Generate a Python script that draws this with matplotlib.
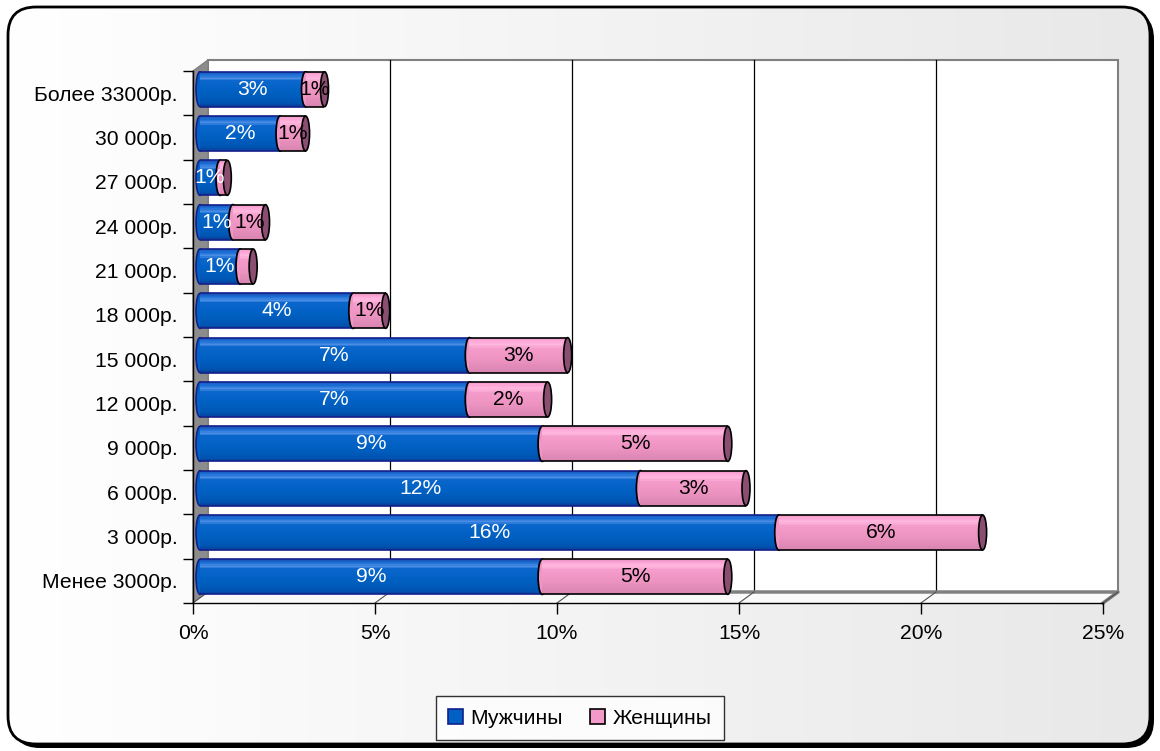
import numpy as np
import matplotlib
matplotlib.use("Agg")
import matplotlib.pyplot as plt
from matplotlib.colors import to_rgb
from matplotlib.patches import Ellipse, Polygon, Rectangle, FancyBboxPatch, Patch
from matplotlib.transforms import ScaledTranslation

plt.rcParams['font.family'] = ['Liberation Sans', 'DejaVu Sans']

# data, bottom to top
categories = ["Менее 3000р.", "3 000р.", "6 000р.", "9 000р.", "12 000р.", "15 000р.",
              "18 000р.", "21 000р.", "24 000р.", "27 000р.", "30 000р.", "Более 33000р."]
men = [9.4, 15.9, 12.1, 9.4, 7.4, 7.4, 4.2, 1.1, 0.9, 0.55, 2.2, 2.9]
women = [5.1, 5.6, 2.9, 5.1, 2.15, 2.7, 0.9, 0.36, 0.9, 0.2, 0.7, 0.52]
series_names = ["Мужчины", "Женщины"]
xticks = [0, 5, 10, 15, 20, 25]

W, H = 1160, 751
FS = 15.2


def shade(keys, n=28):
    # vertical colour profile of a cylinder, top -> bottom
    pos = [k[0] for k in keys]
    cols = np.array([to_rgb(k[1]) for k in keys])
    t = (np.arange(n) + 0.5) / n
    return [tuple(np.interp(v, pos, cols[:, j]) for j in range(3)) for v in t]


blue_bands = shade([(0, "#1d52b8"), (0.1, "#1a6fd6"), (0.2, "#4d8ee4"), (0.27, "#0a66cc"),
                    (0.6, "#0060c2"), (0.9, "#0054b2"), (1.0, "#0a3c98")])
pink_bands = shade([(0, "#e894c2"), (0.1, "#ffa8d8"), (0.2, "#ffb8de"), (0.3, "#f49ccb"),
                    (0.6, "#ee94c2"), (1.0, "#d884b0")])

fig = plt.figure(figsize=(W / 100, H / 100), dpi=100)
fig.patch.set_facecolor("white")

# background frame, walls, floor (pixel coords)
bg = fig.add_axes([0, 0, 1, 1], zorder=-10)
bg.axis("off")

shadow = FancyBboxPatch((12, 11), 1142, 737, boxstyle="round,pad=0,rounding_size=28",
                        facecolor="black", edgecolor="black", lw=0)
bg.add_patch(shadow)
frame = FancyBboxPatch((8, 7), 1142, 737, boxstyle="round,pad=0,rounding_size=28",
                       facecolor="none", edgecolor="black", lw=2)
grad = np.linspace(1.0, 0.91, 256)
img = bg.imshow(np.dstack([grad, grad, grad]), extent=[8, 1150, 744, 7],
                aspect="auto", zorder=1)
bg.add_patch(frame)
img.set_clip_path(frame)
frame.set_zorder(2)
bg.set_xlim(0, W)
bg.set_ylim(H, 0)

x0, x1, yt, yb = 193, 1103, 71, 603
dx, dy = 15, 11
px = (x1 - x0) / 25

bg.add_patch(Rectangle((x0 + dx, yt - dy), x1 - x0, yb - yt, facecolor="white",
                       edgecolor="#808080", lw=1.5, zorder=3))
for v in xticks[1:-1]:
    bg.plot([x0 + dx + v * px] * 2, [yt - dy, yb - dy], color="black", lw=0.9, zorder=4)
bg.add_patch(Polygon([(x0, yt), (x0 + dx, yt - dy), (x0 + dx, yb - dy), (x0, yb)],
                     facecolor="#8c8c8c", edgecolor="#808080", lw=1, zorder=4))
bg.add_patch(Polygon([(x0, yb), (x1, yb), (x1 + dx, yb - dy), (x0 + dx, yb - dy)],
                     facecolor="#fafafa", edgecolor="none", zorder=4))
bg.plot([x0 + dx, x1 + dx, x1], [yb - dy, yb - dy, yb], color="#808080", lw=2.5, zorder=5)
for v in xticks:
    bg.plot([x0 + v * px, x0 + dx + v * px], [yb, yb - dy], color="#505050", lw=0.8, zorder=5)

# main axes = front plane
ax = fig.add_axes([x0 / W, 1 - yb / H, (x1 - x0) / W, (yb - yt) / H])
ax.set_facecolor("none")
ax.set_xlim(0, 25)
ax.set_ylim(-0.5, len(categories) - 0.5)
for s in ["top", "right"]:
    ax.spines[s].set_visible(False)
for s in ["left", "bottom"]:
    ax.spines[s].set_color("black")
    ax.spines[s].set_linewidth(1)
ax.set_xticks(xticks)
ax.set_xticklabels([f"{v}%" for v in xticks], fontsize=FS)
ax.tick_params(axis="x", length=8, width=1, pad=7)
ax.set_yticks(np.arange(-0.5, len(categories), 1.0))
ax.set_yticklabels([])
ax.tick_params(axis="y", which="major", length=7, width=1)
ax.set_yticks(np.arange(len(categories)), minor=True)
ax.set_yticklabels(categories, minor=True, fontsize=FS)
ax.tick_params(axis="y", which="minor", length=0, pad=11)

# bars sit half way into the depth of the 3d box
off = ax.transData + ScaledTranslation(0.07, 0.04, fig.dpi_scale_trans)
bh = 0.79
cw = 0.22


def cylinder(y, left, width, bands, edge, cap, z):
    ax.add_patch(Ellipse((left, y), cw, bh, facecolor=bands[len(bands) // 2], edgecolor=edge,
                         lw=1.2, transform=off, zorder=z))
    n = len(bands)
    for i, c in enumerate(bands):
        top = y + bh / 2 - i * bh / n
        ax.add_patch(Rectangle((left, top - bh / n), width, bh / n * 1.05, facecolor=c,
                               edgecolor="none", lw=0, transform=off, zorder=z + 0.1))
    ax.plot([left, left + width], [y + bh / 2] * 2, color=edge, lw=1.2,
            transform=off, zorder=z + 0.2, solid_capstyle="butt")
    ax.plot([left, left + width], [y - bh / 2] * 2, color=edge, lw=1.2,
            transform=off, zorder=z + 0.2, solid_capstyle="butt")
    ax.add_patch(Ellipse((left + width, y), cw, bh, facecolor=cap, edgecolor=edge,
                         lw=1.2, transform=off, zorder=z + 0.3))


for i, (m, w) in enumerate(zip(men, women)):
    cylinder(i, 0, m, blue_bands, "#14208a", "#0a58b8", 3)
    cylinder(i, m, w, pink_bands, "black", "#8a4f70", 4)
    ax.text(m / 2, i, f"{round(m)}%", ha="center", va="center", color="white",
            fontsize=FS, transform=off, zorder=6)
    if round(w) > 0:
        ax.text(m + w / 2, i, f"{round(w)}%", ha="center", va="center", color="black",
                fontsize=FS, transform=off, zorder=6)

handles = [Patch(facecolor="#0060c4", edgecolor="#14208a", lw=1.2),
           Patch(facecolor="#f49ac8", edgecolor="black", lw=1.2)]
leg = fig.legend(handles, series_names, loc="center", bbox_to_anchor=(580 / W, 1 - 718 / H),
                 ncol=2, fontsize=FS, frameon=True, fancybox=False, handlelength=0.7,
                 handleheight=0.7, handletextpad=0.35, columnspacing=1.3,
                 borderpad=0.6)
leg.get_frame().set_edgecolor("black")
leg.get_frame().set_linewidth(1)
leg.get_frame().set_facecolor("white")

fig.savefig("out.png", dpi=100)
